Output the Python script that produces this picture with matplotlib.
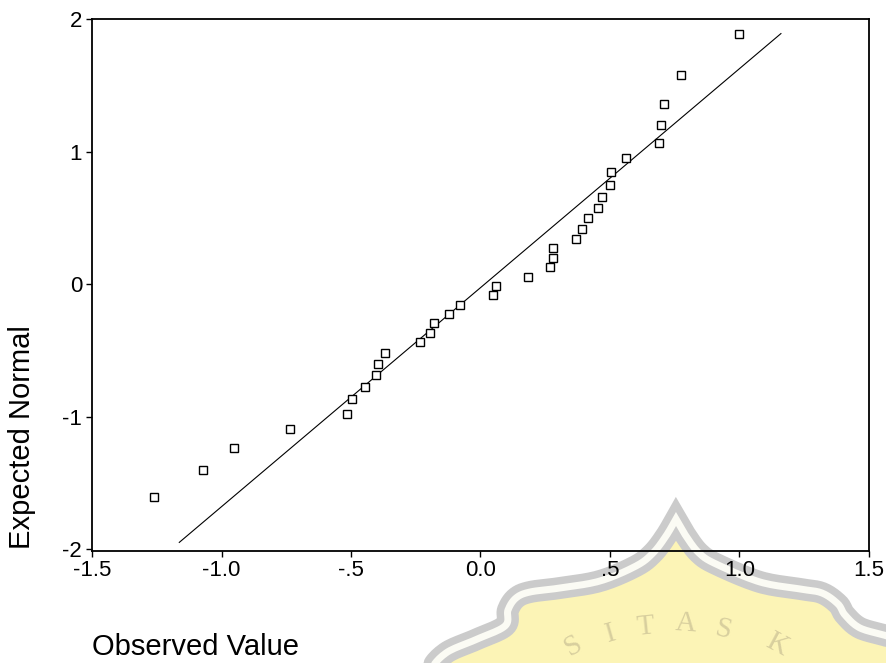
import numpy as np
import matplotlib
matplotlib.use("Agg")
import matplotlib.pyplot as plt

# ---------------- data ----------------
observed = [-1.26, -1.07, -0.95, -0.735, -0.515, -0.495, -0.445, -0.405, -0.395,
            -0.37, -0.235, -0.195, -0.18, -0.12, -0.08, 0.05, 0.06, 0.185, 0.27,
            0.28, 0.28, 0.37, 0.39, 0.415, 0.455, 0.47, 0.50, 0.505, 0.56, 0.69,
            0.695, 0.71, 0.775, 1.00]
expected = [-1.61, -1.40, -1.235, -1.095, -0.98, -0.87, -0.78, -0.69, -0.60,
            -0.52, -0.44, -0.37, -0.295, -0.225, -0.155, -0.08, -0.015, 0.05, 0.125,
            0.195, 0.27, 0.34, 0.415, 0.495, 0.575, 0.66, 0.75, 0.845, 0.95, 1.065,
            1.20, 1.36, 1.575, 1.89]
line_x = [-1.163, 1.16]
line_y = [-1.95, 1.89]

x_ticks = [-1.5, -1.0, -0.5, 0.0, 0.5, 1.0, 1.5]
x_tick_labels = ["-1.5", "-1.0", "-.5", "0.0", ".5", "1.0", "1.5"]
y_ticks = [-2, -1, 0, 1, 2]
y_tick_labels = ["-2", "-1", "0", "1", "2"]
x_label = "Observed Value"
y_label = "Expected Normal"
watermark_letters = ["S", "I", "T", "A", "S", "K"]

# ---------------- figure ----------------
W, H = 887, 663
plt.rcParams['font.family'] = ['Liberation Sans', 'DejaVu Sans']
fig = plt.figure(figsize=(W / 100, H / 100), dpi=100)
fig.patch.set_facecolor('white')

PT = 0.72  # points per pixel at dpi 100


def catmull(points, n=12):
    pts = np.asarray(points, dtype=float)
    pts = np.vstack([pts[0], pts, pts[-1]])
    out = []
    for i in range(1, len(pts) - 2):
        p0, p1, p2, p3 = pts[i - 1], pts[i], pts[i + 1], pts[i + 2]
        for t in np.linspace(0, 1, n, endpoint=False):
            t2, t3 = t * t, t * t * t
            out.append(0.5 * ((2 * p1) + (-p0 + p2) * t +
                              (2 * p0 - 5 * p1 + 4 * p2 - p3) * t2 +
                              (-p0 + 3 * p1 - 3 * p2 + p3) * t3))
    out.append(pts[-2])
    return np.array(out)


# ---- watermark (decoration in figure pixel space, behind the chart) ----
wm = fig.add_axes([0, 0, 1, 1], zorder=0)
wm.set_xlim(0, W)
wm.set_ylim(H, 0)
wm.axis('off')

left_c = [(676, 519), (666, 536), (653, 553), (636, 566), (600, 581), (560, 588),
          (530, 592), (516, 598), (508, 610), (505, 626), (475, 640), (446, 653),
          (430, 672), (426, 700)]
right_c = [(676, 519), (686, 536), (699, 553), (716, 564), (760, 582), (800, 589),
           (822, 593), (838, 604), (845, 615), (860, 628), (887, 636), (910, 645)]
L = catmull(left_c)
R = catmull(right_c)
curve = np.vstack([L[::-1], R[1:]])
poly = np.vstack([curve, [[910, 720], [426, 720]]])
wm.fill(poly[:, 0], poly[:, 1], color='#fcf4b6', lw=0, zorder=1)
wm.plot(curve[:, 0], curve[:, 1], color='#cbcbcb', lw=22 * PT,
        solid_joinstyle='miter', solid_capstyle='round', zorder=2)
wm.plot(curve[:, 0], curve[:, 1], color='#fbfbf4', lw=7 * PT,
        solid_joinstyle='miter', solid_capstyle='round', zorder=3)

letter_pos = [(573, 646, 30), (611, 634, 16), (646, 627, 6),
              (686, 624, -4), (724, 630, -14), (777, 645, -28)]
for ch, (lx, ly, rot) in zip(watermark_letters, letter_pos):
    wm.text(lx, ly, ch, fontsize=21, family=['Liberation Serif', 'DejaVu Serif'],
            color='#d8cf9e', ha='center', va='center', rotation=rot, zorder=4)

# ---------------- main axes ----------------
left, right, top, bottom = 92, 869, 19, 551
ax = fig.add_axes([left / W, 1 - bottom / H, (right - left) / W, (bottom - top) / H],
                  zorder=1)
ax.set_facecolor('none')

ax.plot(line_x, line_y, color='black', lw=0.8, zorder=2)
ax.plot(observed, expected, linestyle='none', marker='s', markersize=5.5,
        markerfacecolor='white', markeredgecolor='black', markeredgewidth=1.0,
        zorder=3)

ax.set_xlim(-1.5, 1.5)
ax.set_ylim(-2.015, 2.0)
ax.set_xticks(x_ticks)
ax.set_xticklabels(x_tick_labels)
ax.set_yticks(y_ticks)
ax.set_yticklabels(y_tick_labels)
ax.tick_params(axis='both', direction='out', length=4.3, width=1.0,
               colors='black', labelsize=16)
ax.tick_params(axis='x', pad=2)
ax.tick_params(axis='y', pad=2.8)
for s in ax.spines.values():
    s.set_linewidth(1.3)
    s.set_color('black')

fig.text(22.5 / W, 1 - 437.5 / H, y_label, rotation=90, fontsize=21,
         ha='center', va='center', color='black')
fig.text(91.7 / W, 1 - 655 / H, x_label, fontsize=21, ha='left',
         va='baseline', color='black')

fig.savefig('out.png', dpi=100, facecolor='white')
